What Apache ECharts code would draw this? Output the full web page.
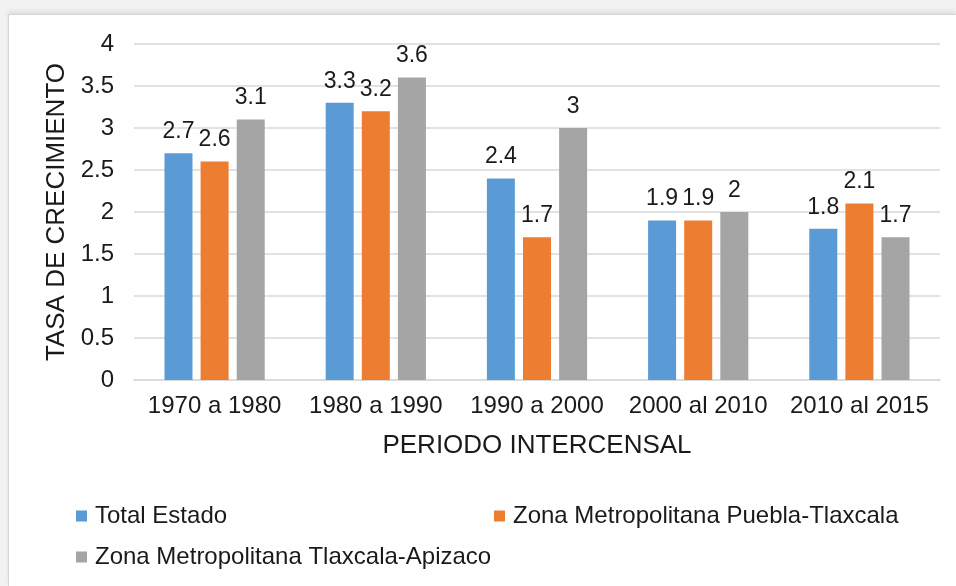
<!DOCTYPE html>
<html>
<head>
<meta charset="utf-8">
<script src="https://cdn.jsdelivr.net/npm/echarts@6/dist/echarts.min.js"></script>
<style>
    html, body {
        margin: 0;
        padding: 0;
        width: 956px;
        height: 586px;
        background: #f2f2f2;
        overflow: hidden;
    }
    .frame {
        position: absolute;
        left: 8px;
        top: 14px;
        right: 0;
        bottom: 0;
        background: #ffffff;
        border-left: 1px solid #d6d6d6;
        border-top: 1px solid #d6d6d6;
        box-shadow: 0 -3px 4px rgba(0, 0, 0, 0.08);
    }
    .growth-chart {
        position: absolute;
        left: 0;
        top: 0;
        width: 956px;
        height: 586px;
    }
</style>
</head>
<body>
<div class="frame"></div>
<div class="growth-chart" id="growthChart"></div>
<script>
// periodos intercensales
const categories = ["1970 a 1980", "1980 a 1990", "1990 a 2000", "2000 al 2010", "2010 al 2015"];
const seriesNames = [
    "Total Estado",
    "Zona Metropolitana Puebla-Tlaxcala",
    "Zona Metropolitana Tlaxcala-Apizaco"
];
const totalEstado = [2.7, 3.3, 2.4, 1.9, 1.8];
const zmPueblaTlaxcala = [2.6, 3.2, 1.7, 1.9, 2.1];
const zmTlaxcalaApizaco = [3.1, 3.6, 3.0, 2.0, 1.7];
const yTicks = [0, 0.5, 1, 1.5, 2, 2.5, 3, 3.5, 4];

const colors = ["#5B9BD5", "#ED7D31", "#A5A5A5"];
const fontFamily = "'Liberation Sans', Arial, sans-serif";
const textColor = "#1a1a1a";

const makeSeries = (name, data, color) => ({
    name: name,
    type: "bar",
    data: data,
    barWidth: 28,
    barGap: "29%",
    itemStyle: { color: color },
    label: {
        show: true,
        position: "top",
        distance: 10,
        color: textColor,
        fontSize: 23,
        fontFamily: fontFamily
    }
});

const legendItem = (name, left, top) => ({
    data: [name],
    left: left,
    top: top,
    padding: 0,
    icon: "rect",
    itemWidth: 11,
    itemHeight: 11,
    textStyle: {
        color: textColor,
        fontSize: 24,
        fontFamily: fontFamily,
        padding: [0, 0, 0, 3]
    }
});

const myChart = echarts.init(document.getElementById("growthChart"));
const options = {
    backgroundColor: "transparent",
    animation: false,
    grid: {
        left: 134,
        right: 16,
        top: 44,
        bottom: 206
    },
    legend: [
        legendItem(seriesNames[0], 76, 504),
        legendItem(seriesNames[1], 494, 504),
        legendItem(seriesNames[2], 76, 545)
    ],
    xAxis: {
        type: "category",
        data: categories,
        name: "PERIODO INTERCENSAL",
        nameLocation: "middle",
        nameGap: 53,
        nameTextStyle: {
            color: textColor,
            fontSize: 26,
            fontFamily: fontFamily
        },
        axisLine: { lineStyle: { color: "#d9d9d9", width: 1.5 } },
        axisTick: { show: false },
        axisLabel: {
            interval: 0,
            hideOverlap: false,
            color: textColor,
            fontSize: 24,
            fontFamily: fontFamily,
            margin: 14
        }
    },
    yAxis: {
        type: "value",
        min: yTicks[0],
        max: yTicks[yTicks.length - 1],
        interval: 0.5,
        name: "TASA DE CRECIMIENTO",
        nameLocation: "middle",
        nameRotate: 90,
        nameGap: 62,
        nameTextStyle: {
            color: textColor,
            fontSize: 26,
            fontFamily: fontFamily
        },
        axisLine: { show: false },
        axisTick: { show: false },
        axisLabel: {
            color: textColor,
            fontSize: 24,
            fontFamily: fontFamily,
            margin: 20
        },
        splitLine: { lineStyle: { color: "#d9d9d9", width: 1.5 } }
    },
    series: [
        makeSeries(seriesNames[0], totalEstado, colors[0]),
        makeSeries(seriesNames[1], zmPueblaTlaxcala, colors[1]),
        makeSeries(seriesNames[2], zmTlaxcalaApizaco, colors[2])
    ]
};
myChart.setOption(options);
</script>
</body>
</html>
